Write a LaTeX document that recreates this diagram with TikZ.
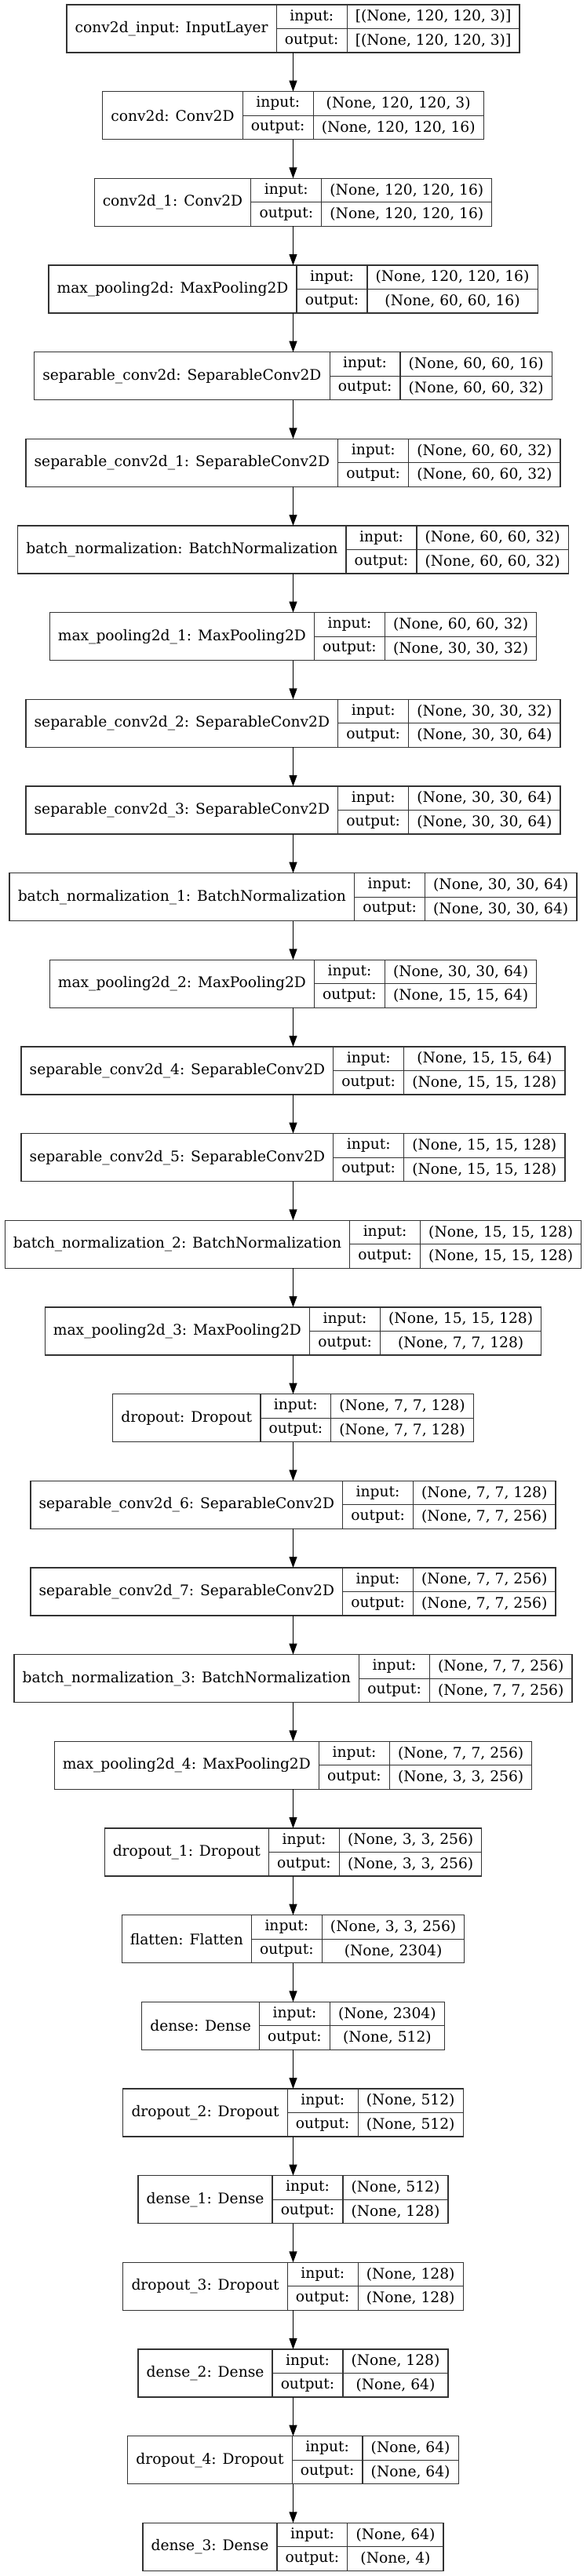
\documentclass[tikz,border=0pt]{standalone}
\usepackage{fontspec}
\setmainfont{DejaVu Serif}
\usetikzlibrary{arrows.meta}
\newlength\cwa \newlength\cwb \newlength\cwc \newlength\cwd
\newcommand\kfont{\fontsize{14pt}{16pt}\selectfont}
\tikzset{
  kbox/.style={draw=black!80, line width=0.9pt, inner sep=0pt, outer sep=0pt, minimum height=45.75pt},
  kcell/.style={draw=black!80, line width=0.9pt, inner sep=0pt, outer sep=0pt, anchor=north west, font=\kfont, text=black},
  karrow/.style={draw=black, line width=0.9pt, -{Triangle[length=10.5pt,width=7.5pt]}}
}
\newcommand\kdef[4]{%
  \expandafter\def\csname kla#1\endcsname{#2}%
  \expandafter\def\csname klb#1\endcsname{#3}%
  \expandafter\def\csname klc#1\endcsname{#4}%
  \settowidth\cwa{\kfont #2}\addtolength\cwa{16pt}%
  \settowidth\cwc{\kfont #3}\settowidth\cwd{\kfont #4}%
  \ifdim\cwd>\cwc \cwc=\cwd\fi \addtolength\cwc{16pt}%
  \expandafter\edef\csname kwa#1\endcsname{\the\cwa}%
  \expandafter\edef\csname kwc#1\endcsname{\the\cwc}%
}
\begin{document}
\settowidth\cwb{\kfont output:}\addtolength\cwb{16pt}%
\edef\kwb{\the\cwb}%
\kdef{0}{conv2d\_input: InputLayer}{[(None, 120, 120, 3)]}{[(None, 120, 120, 3)]}%
\kdef{1}{conv2d: Conv2D}{(None, 120, 120, 3)}{(None, 120, 120, 16)}%
\kdef{2}{conv2d\_1: Conv2D}{(None, 120, 120, 16)}{(None, 120, 120, 16)}%
\kdef{3}{max\_pooling2d: MaxPooling2D}{(None, 120, 120, 16)}{(None, 60, 60, 16)}%
\kdef{4}{separable\_conv2d: SeparableConv2D}{(None, 60, 60, 16)}{(None, 60, 60, 32)}%
\kdef{5}{separable\_conv2d\_1: SeparableConv2D}{(None, 60, 60, 32)}{(None, 60, 60, 32)}%
\kdef{6}{batch\_normalization: BatchNormalization}{(None, 60, 60, 32)}{(None, 60, 60, 32)}%
\kdef{7}{max\_pooling2d\_1: MaxPooling2D}{(None, 60, 60, 32)}{(None, 30, 30, 32)}%
\kdef{8}{separable\_conv2d\_2: SeparableConv2D}{(None, 30, 30, 32)}{(None, 30, 30, 64)}%
\kdef{9}{separable\_conv2d\_3: SeparableConv2D}{(None, 30, 30, 64)}{(None, 30, 30, 64)}%
\kdef{10}{batch\_normalization\_1: BatchNormalization}{(None, 30, 30, 64)}{(None, 30, 30, 64)}%
\kdef{11}{max\_pooling2d\_2: MaxPooling2D}{(None, 30, 30, 64)}{(None, 15, 15, 64)}%
\kdef{12}{separable\_conv2d\_4: SeparableConv2D}{(None, 15, 15, 64)}{(None, 15, 15, 128)}%
\kdef{13}{separable\_conv2d\_5: SeparableConv2D}{(None, 15, 15, 128)}{(None, 15, 15, 128)}%
\kdef{14}{batch\_normalization\_2: BatchNormalization}{(None, 15, 15, 128)}{(None, 15, 15, 128)}%
\kdef{15}{max\_pooling2d\_3: MaxPooling2D}{(None, 15, 15, 128)}{(None, 7, 7, 128)}%
\kdef{16}{dropout: Dropout}{(None, 7, 7, 128)}{(None, 7, 7, 128)}%
\kdef{17}{separable\_conv2d\_6: SeparableConv2D}{(None, 7, 7, 128)}{(None, 7, 7, 256)}%
\kdef{18}{separable\_conv2d\_7: SeparableConv2D}{(None, 7, 7, 256)}{(None, 7, 7, 256)}%
\kdef{19}{batch\_normalization\_3: BatchNormalization}{(None, 7, 7, 256)}{(None, 7, 7, 256)}%
\kdef{20}{max\_pooling2d\_4: MaxPooling2D}{(None, 7, 7, 256)}{(None, 3, 3, 256)}%
\kdef{21}{dropout\_1: Dropout}{(None, 3, 3, 256)}{(None, 3, 3, 256)}%
\kdef{22}{flatten: Flatten}{(None, 3, 3, 256)}{(None, 2304)}%
\kdef{23}{dense: Dense}{(None, 2304)}{(None, 512)}%
\kdef{24}{dropout\_2: Dropout}{(None, 512)}{(None, 512)}%
\kdef{25}{dense\_1: Dense}{(None, 512)}{(None, 128)}%
\kdef{26}{dropout\_3: Dropout}{(None, 128)}{(None, 128)}%
\kdef{27}{dense\_2: Dense}{(None, 128)}{(None, 64)}%
\kdef{28}{dropout\_4: Dropout}{(None, 64)}{(None, 64)}%
\kdef{29}{dense\_3: Dense}{(None, 64)}{(None, 4)}%
\begin{tikzpicture}
\useasboundingbox[fill=white] (0,0) rectangle (560.25pt,-2462.25pt);
\foreach \i in {0,...,29} {
  \edef\wa{\csname kwa\i\endcsname}
  \edef\wc{\csname kwc\i\endcsname}
  \expandafter\let\expandafter\tla\csname kla\i\endcsname
  \expandafter\let\expandafter\tlb\csname klb\i\endcsname
  \expandafter\let\expandafter\tlc\csname klc\i\endcsname
  \pgfmathsetmacro\wt{\wa+\kwb+\wc}
  \node[kbox, minimum width=\wt pt] (n\i) at (280.125pt, {-(27.375+83*\i)*1pt}) {};
  \node[kcell, minimum width=\wa, minimum height=45.75pt] (l\i) at (n\i.north west) {\tla};
  \node[kcell, minimum width=\kwb, minimum height=22.875pt] (i\i) at (l\i.north east) {input:};
  \node[kcell, minimum width=\kwb, minimum height=22.875pt] (o\i) at (i\i.south west) {output:};
  \node[kcell, minimum width=\wc, minimum height=22.875pt] (a\i) at (i\i.north east) {\tlb};
  \node[kcell, minimum width=\wc, minimum height=22.875pt] (b\i) at (a\i.south west) {\tlc};
}
\foreach \i [evaluate=\i as \j using int(\i+1)] in {0,...,28} {
  \draw[karrow] (n\i.south) -- (n\j.north);
}
\end{tikzpicture}
\end{document}
